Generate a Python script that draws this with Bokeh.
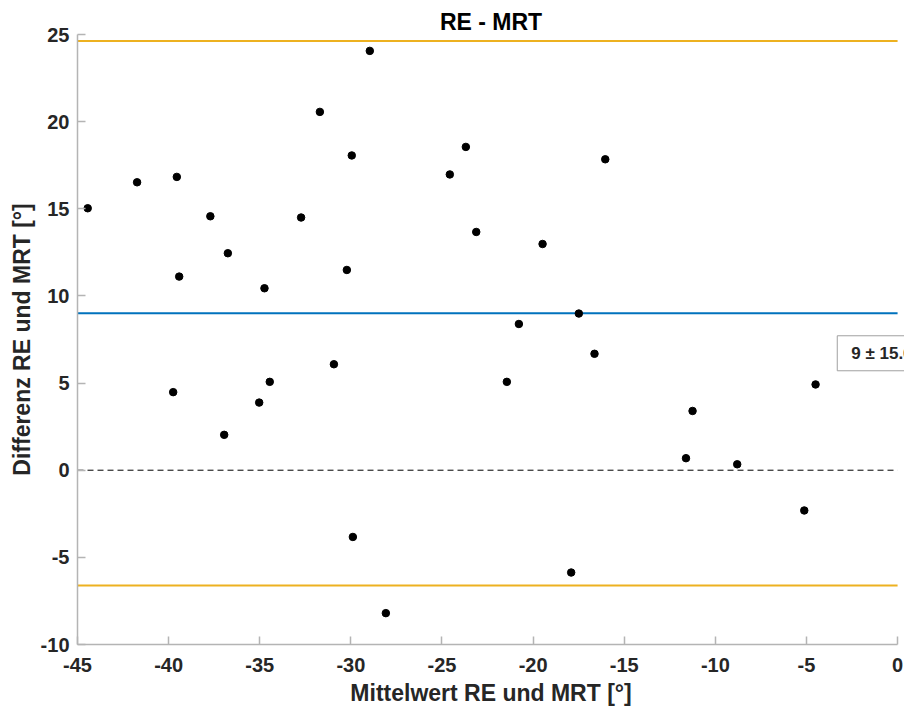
from bokeh.plotting import figure
from bokeh.models import Label, Range1d, FixedTicker
from bokeh.embed import file_html
from bokeh.resources import INLINE

# Bland-Altman data: mean of RE and MRT (x), difference RE - MRT (y)
mittelwert = [-44.44, -41.73, -39.55, -39.42, -37.71, -36.75, -34.74, -32.73,
              -31.70, -30.22, -29.95, -28.96, -24.57, -23.69, -16.04, -23.12,
              -19.48, -20.78, -17.49, -16.63, -39.75, -36.95, -35.03, -34.45,
              -30.93, -29.89, -28.08, -21.44, -11.25, -11.61, -8.80, -4.50,
              -5.12, -17.91]
differenz = [15.03, 16.52, 16.83, 11.11, 14.57, 12.45, 10.44, 14.50,
             20.56, 11.49, 18.06, 24.06, 16.97, 18.55, 17.84, 13.67,
             12.98, 8.39, 8.99, 6.68, 4.48, 2.03, 3.88, 5.07,
             6.08, -3.83, -8.20, 5.07, 3.40, 0.69, 0.34, 4.92,
             -2.31, -5.87]

mean_diff = 9.0
loa = 15.62          # 1.96 * SD
zero_line = 0.0

x_ticks = [-45, -40, -35, -30, -25, -20, -15, -10, -5, 0]
y_ticks = [-10, -5, 0, 5, 10, 15, 20, 25]
x_limits = (-45, 0)
y_limits = (-10, 25)

FONT = "Liberation Sans"
TXT = "#262626"
AXC = "#b4b4b4"

p = figure(width=904, height=713, output_backend="svg", toolbar_location=None,
           x_range=Range1d(x_limits[0], x_limits[1] + 0.38),
           y_range=Range1d(*y_limits),
           min_border_left=77, min_border_right=0, min_border_top=34,
           min_border_bottom=69, title="RE - MRT")

p.title.align = "center"
p.title.text_font = FONT
p.title.text_font_style = "bold"
p.title.text_font_size = "23px"
p.title.text_color = "#000000"
p.title.standoff = 0
p.title.offset = -4

p.outline_line_color = None
p.grid.visible = False
p.background_fill_color = "white"
p.border_fill_color = "white"

for ax in (p.xaxis[0], p.yaxis[0]):
    ax.axis_line_color = AXC
    ax.axis_line_width = 1.5
    ax.major_tick_line_color = AXC
    ax.major_tick_line_width = 1.5
    ax.major_tick_in = 8
    ax.major_tick_out = 0
    ax.minor_tick_line_color = None
    ax.major_label_text_font = FONT
    ax.major_label_text_font_style = "bold"
    ax.major_label_text_font_size = "20px"
    ax.major_label_text_color = TXT
    ax.axis_label_text_font = FONT
    ax.axis_label_text_font_style = "bold"
    ax.axis_label_text_font_size = "23px"
    ax.axis_label_text_color = TXT

p.xaxis.bounds = x_limits
p.xaxis.ticker = FixedTicker(ticks=x_ticks)
p.yaxis.ticker = FixedTicker(ticks=y_ticks)
p.xaxis.major_label_overrides = {t: str(t) for t in x_ticks}
p.yaxis.major_label_overrides = {t: str(t) for t in y_ticks}
p.xaxis.axis_label = "Mittelwert RE und MRT [°]"
p.yaxis.axis_label = "Differenz RE und MRT [°]"
p.xaxis.major_label_standoff = 13
p.xaxis.axis_label_standoff = 5
p.yaxis.major_label_standoff = 8
p.yaxis.axis_label_standoff = 3

# reference lines, spanning the x limits
p.segment(x0=[x_limits[0]] * 2, x1=[x_limits[1]] * 2,
          y0=[mean_diff + loa, mean_diff - loa],
          y1=[mean_diff + loa, mean_diff - loa],
          line_color="#EDB120", line_width=2)
p.segment(x0=[x_limits[0]], x1=[x_limits[1]], y0=[mean_diff], y1=[mean_diff],
          line_color="#0072BD", line_width=2)
p.segment(x0=[x_limits[0]], x1=[x_limits[1]], y0=[zero_line], y1=[zero_line],
          line_color="black", line_width=1, line_dash="6 4")

p.scatter(mittelwert, differenz, size=7.5, color="black", marker="circle")

p.add_layout(Label(x=-3.31, y=6.71, text=f"{mean_diff:g} ± {loa:.1f}",
                   text_font=FONT, text_font_style="bold",
                   text_font_size="17px", text_color=TXT,
                   text_align="left", text_baseline="middle",
                   padding=dict(left=14, right=14, top=8, bottom=8),
                   border_line_color="#a0a0a0",
                   border_line_width=1, background_fill_color="white"))

open("out.html", "w").write(file_html(p, INLINE))
